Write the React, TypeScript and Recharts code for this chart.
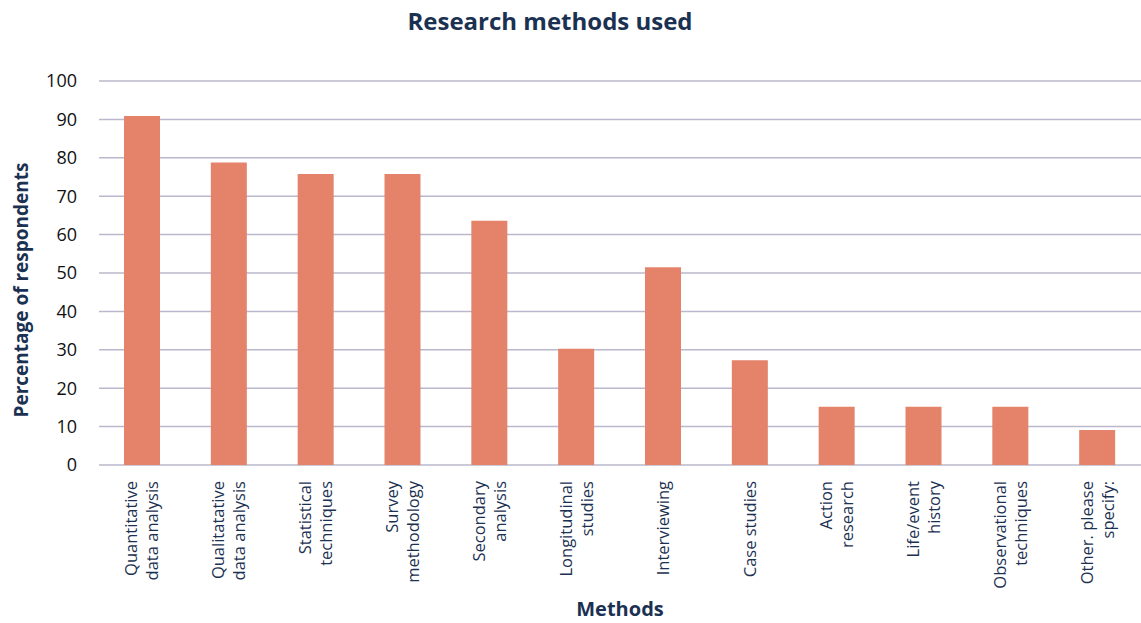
import { BarChart, Bar, XAxis, YAxis, CartesianGrid } from 'recharts'

const methods = [
  'Quantitative\ndata analysis',
  'Qualitatative\ndata analysis',
  'Statistical\ntechniques',
  'Survey\nmethodology',
  'Secondary\nanalysis',
  'Longitudinal\nstudies',
  'Interviewing',
  'Case studies',
  'Action\nresearch',
  'Life/event\nhistory',
  'Observational\ntechniques',
  'Other. please\nspecify:',
]
const percentages = [90.9, 78.8, 75.8, 75.8, 63.6, 30.3, 51.5, 27.3, 15.2, 15.2, 15.2, 9.1]
const yTicks = [0, 10, 20, 30, 40, 50, 60, 70, 80, 90, 100]

const data = methods.map((name, i) => ({ name, value: percentages[i] }))

const NAVY = '#1B3151'
const FONT = '"Open Sans", "Noto Sans", sans-serif'

const MethodTick = ({ x, y, payload }: any) => {
  const lines: string[] = String(payload.value).split('\n')
  const lh = 21
  return (
    <g transform={`translate(${x},${y + 16}) rotate(-90)`}>
      <text textAnchor="end" fill={NAVY} fontSize={16.5} fontFamily={FONT}>
        {lines.map((l, i) => (
          <tspan key={i} x={0} y={(i - (lines.length - 1) / 2) * lh + 5.5}>
            {l}
          </tspan>
        ))}
      </text>
    </g>
  )
}

const YTitle = ({ viewBox }: any) => {
  const cx = 28
  const cy = viewBox.y + viewBox.height / 2 + 17
  return (
    <text
      x={cx}
      y={cy}
      transform={`rotate(-90, ${cx}, ${cy})`}
      textAnchor="middle"
      fill={NAVY}
      fontSize={19}
      fontWeight={700}
      fontFamily={FONT}
    >
      Percentage of respondents
    </text>
  )
}

export default function App() {
  return (
    <div style={{ position: 'relative', width: 1141, height: 623, background: '#fff' }}>
      <style>{`body{margin:0}`}</style>
      <div
        style={{
          position: 'absolute',
          top: 4,
          left: 0,
          width: 1100,
          textAlign: 'center',
          color: NAVY,
          fontFamily: FONT,
          fontWeight: 700,
          fontSize: 24,
        }}
      >
        Research methods used
      </div>
      <BarChart width={1141} height={623} data={data} margin={{ top: 81, right: 0, left: 0, bottom: 0 }}>
        <CartesianGrid vertical={false} stroke="#BAB8CC" strokeWidth={1.5} />
        <XAxis
          dataKey="name"
          interval={0}
          height={158}
          axisLine={false}
          tickLine={false}
          tickSize={0}
          tickMargin={0}
          tick={<MethodTick />}
          label={{
            value: 'Methods',
            position: 'insideBottom',
            offset: 7,
            fill: NAVY,
            fontSize: 20,
            fontWeight: 700,
            fontFamily: FONT,
          }}
        />
        <YAxis
          width={99}
          domain={[0, 100]}
          ticks={yTicks}
          axisLine={false}
          tickLine={false}
          tickSize={0}
          tickMargin={22}
          tick={{ fill: '#111', fontSize: 18, fontFamily: FONT }}
          label={<YTitle />}
        />
        <Bar dataKey="value" fill="#E5826A" barSize={36} isAnimationActive={false} />
      </BarChart>
    </div>
  )
}
